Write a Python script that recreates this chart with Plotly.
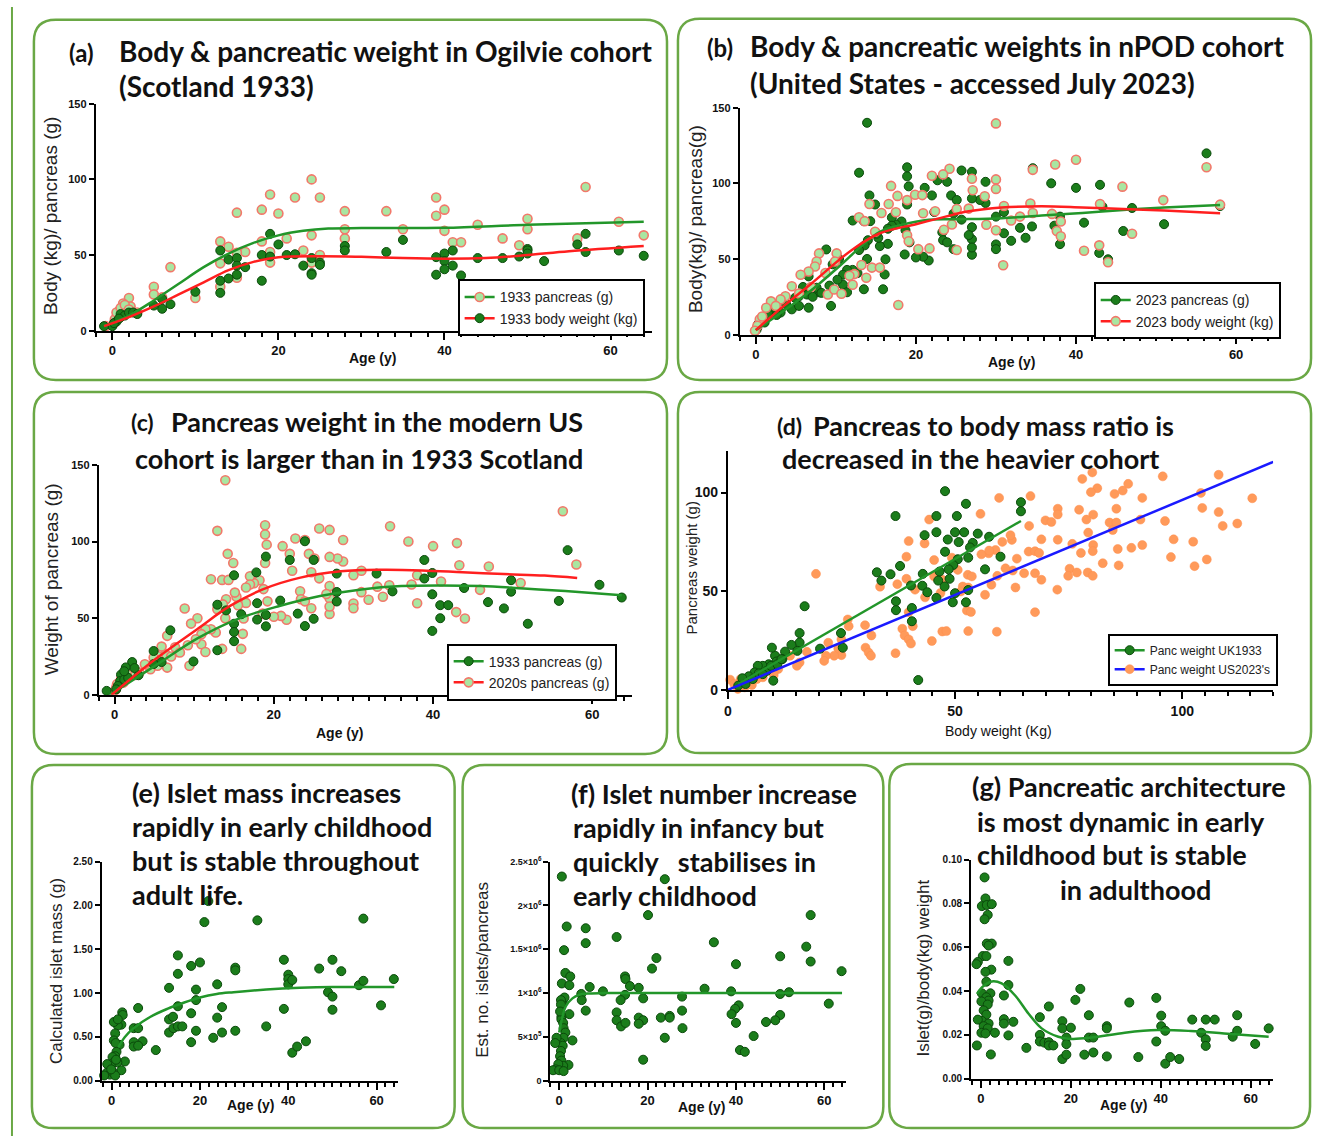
import plotly.graph_objects as go

W, H = 1327, 1144

# ---------------- DATA ----------------
# (a) Ogilvie 1933: pancreas (g) and body weight (kg) vs age
a_panc_age = [24, 19, 22, 25, 18, 20, 15, 28, 33, 39, 40, 39, 40, 41, 42, 44, 35, 28, 28, 47, 49, 50, 50, 57, 56, 61, 64,
              24, 21, 18, 19, 19, 23, 25, 24, 13, 14, 16, 13, 15, 15, 13, 7, 5, 5, 6, 10, 2, 1.3, 2.2, 0.8, 0.3, -0.8,
              0.5, 1, 1.5, 2, 0.2, 3]
a_panc_val = [100, 90, 88, 88, 80, 77.5, 78, 79, 79, 88, 80, 76, 66, 58.5, 58.5, 70, 67, 67, 61, 61, 56.5, 74, 67, 95, 61, 72, 63,
              63, 61, 59, 52, 45, 53, 50, 45, 59, 55.5, 52, 44.5, 51.5, 35, 29, 42, 29, 24, 22, 21.6, 21.6, 18, 16, 13, 7.5, 3,
              12, 15, 17, 14, 5, 12]
a_body_age = [19, 57, 35, 20, 28, 28, 33, 13, 14, 15, 15, 15, 16, 18, 19, 21, 22, 23, 24, 24, 24, 25, 25, 18, 13, 14, 13, 10,
              7, 6, 6, 5, 39, 39, 40, 40, 40, 41, 41, 42, 44, 47, 49, 50, 50, 50, 52, 56, 57, 61, 64,
              0, 0.5, 1, 1, 1.5, 2, 2.5, 3, 0.2, -1, 0.8]
a_body_val = [64, 64, 60, 57, 56, 53, 52, 53, 47, 48, 43, 37, 42, 50, 49, 50, 50.5, 43, 48, 38, 37, 45, 43.5, 33, 33, 34.5, 25, 25.7,
              17.5, 21, 14.5, 16.6, 48.6, 37, 51, 46, 40.6, 53, 43, 36.5, 48, 48, 49, 54, 53, 51, 46, 57, 52, 53, 49.5,
              3, 6, 9, 11, 10, 12, 12, 11, 5, 3, 8]
a_panc_fit_x = [-1, 2, 5, 8, 11, 14, 17, 20, 23, 26, 30, 40, 50, 64]
a_panc_fit_y = [3, 10, 20, 31, 42, 51, 58, 63, 66, 67.5, 67.8, 68, 70, 72]
a_body_fit_x = [-1, 2, 5, 8, 11, 14, 17, 20, 25, 30, 35, 40, 45, 50, 55, 64]
a_body_fit_y = [3, 9, 16, 24, 32, 40, 45.5, 48.5, 49.2, 48.8, 48, 47.6, 48, 50, 52.5, 56]

# (b) nPOD 2023: pancreas (g) and body weight (kg) vs age
b_panc_age = [13.9, 56.3, 12.9, 18.9, 18.9, 19.1, 25.7, 28.7, 27, 22.7, 23.9, 21.1, 22, 24.4, 18.9, 14.2, 14.9, 13.5, 12.1,
              34.6, 36.9, 40, 43, 58, 51, 43.3, 45.9, 47, 44, 42.9, 41, 38, 38, 37.3, 34.5, 33.7, 33, 31.9, 31, 31, 30, 30, 30,
              28.7, 28, 27, 27, 27, 27, 27, 26.6, 25.7, 25.1, 24.7, 23.3, 23.4, 23.9, 24.7, 22.3, 21.6, 20.9, 20, 18.6, 19.2,
              18.7, 18.2, 17.5, 17, 17, 16.5, 16.5, 16.2, 16.1, 15.9, 15.5, 15.3, 15.1, 14.3, 14, 13.9, 13.6, 12.9, 12.7, 13.5,
              12.1, 11.4, 10.9, 10.9, 11.4, 10.4, 9.6, 8.8, 9.4, 10.2, 9.2, 7.9, 7.6, 6.6, 6.6, 6.4, 5.9, 5.4, 4.9, 4.5, 3.8,
              3.1, 2.3, 1.6, 0.8, 0.3, 0.1, 0.2, 1.1, 2.6, 7.1, 8.2, 5.4]
b_panc_val = [140, 119.8, 107, 110.6, 104.6, 98, 108.5, 101, 107.6, 102, 101, 97, 92, 92, 86, 92, 86, 75, 75.4,
              110, 100, 97, 99, 85, 73, 84.6, 68.5, 83.7, 49.8, 54, 74, 78, 59.8, 72, 71.5, 64, 70.6, 62, 67, 81, 59.6, 56.5, 78,
              87, 89, 90, 71, 63, 52.8, 57.6, 65.8, 76, 89, 80, 67.6, 62.4, 61, 56.5, 81, 49, 51.5, 51, 53, 61,
              69, 74.8, 72.8, 77.4, 72, 70, 60, 49.8, 39.8, 30, 58.5, 64, 66.7, 75, 62.4, 50, 59, 55.9, 40.7, 30,
              42.8, 42.8, 39.6, 33, 28, 50, 46.5, 56.3, 19, 36.3, 32.4, 28, 31, 38.5, 17.8, 26.5, 31.5, 25.4, 24.3, 16.7, 20,
              14.6, 16.7, 13.5, 10.2, 7, 3.3, 4.8, 8, 13, 25, 27.6, 19]
b_body_age = [30, 40, 37.4, 56.3, 34.6, 24.2, 23.4, 22, 27, 30, 30, 45.8, 16.9, 17.7, 18.9, 19.9, 20.8, 27.1, 28.6, 50.9, 58,
              34.3, 43, 14.2, 16.6, 15.7, 17.5, 20.9, 22.4, 25.1, 26.6, 31, 31.9, 33, 34.6, 37, 38.1, 37.6, 38.1, 30, 28.8,
              23.5, 24.5, 12.9, 13.6, 14.9, 18.9, 19.1, 21.7, 20.3, 25.1, 30.9, 41, 42.9, 47, 44, 13.2, 13.8, 14.5, 15.5,
              12.3, 11.7, 12.1, 17.8, 10.1, 9.9, 7.9, 7.6, 7.4, 6.6, 5.6, 8.7, 9, 9.8, 10.7, 4.5, 3.7, 3.1, 1.9, 1.3, 2.5,
              0.5, 0.2, -0.1, 0.8, 5.4, 6.9]
b_body_val = [139.6, 115.6, 112.4, 110.6, 108.9, 109.6, 105.9, 105, 103, 102.6, 96.3, 97.8, 98.3, 91.7, 88.9, 92.4, 92.2, 95.4,
              91.5, 88.9, 85.9, 86.7, 86.3, 86.3, 86.3, 80.4, 80.9, 80.2, 81.5, 83, 83.3, 85, 75.4, 78, 80.4, 79.8, 74.8, 68.5,
              65, 69, 72.6, 69.3, 72.8, 77.6, 75, 68, 65.7, 61.7, 57, 56.5, 55.9, 45.9, 55.4, 59, 66.7, 47.8, 46, 37.6, 44.3,
              44.3, 40, 38.9, 33, 19.6, 53.7, 48.3, 53.7, 48.3, 45, 41.7, 39.6, 40.7, 26.5, 29.8, 27, 32, 25.4, 23.3, 22,
              17.8, 19, 10.2, 5.9, 2.6, 12, 27.2, 31.5]
b_panc_fit_x = [0, 2.5, 5.4, 8, 10.4, 13.5, 15.5, 18.5, 21.6, 25.6, 30.7, 35.7, 40.8, 45.9, 51, 58]
b_panc_fit_y = [3, 12, 23, 34, 45, 60, 68, 73, 76, 76.3, 77, 78.7, 80.4, 82.4, 84, 85.7]
b_body_fit_x = [0, 3.5, 7, 12, 15.5, 20, 22.6, 26.6, 30.7, 35.7, 40.8, 45.9, 51, 58]
b_body_fit_y = [3, 19, 34, 56, 67, 73, 76.5, 81.5, 84, 84.8, 84, 83, 82, 80.2]

# (c) pancreas weight 1933 vs 2020s (2020s points are the nPOD pancreas values)
c_1933_age = [23.9, 56.9, 38.9, 19, 22, 25, 17.8, 15, 39.9, 38.9, 32.9, 27.9, 49.8, 60.9, 43.9, 34.9, 27.9, 49.8, 39.9, 63.7,
              20.8, 27.9, 55.8, 46.9, 17.9, 40.9, 41.9, 48.9, 12.9, 14, 19, 23, 23.9, 19, 25, 17.9, 15.9, 15, 15, 15, 40.9,
              39.9, 51.9, 12.9, 9.9, 7, 4.9, 5.9, 4.9, 3, 2.2, 1.4, 0.8, 0.7, 1.2, 1.7, 0.4, 0.2, -1, 1.2, 2.5]
c_1933_val = [100.2, 94.4, 88, 90.2, 88, 88, 79.9, 78, 79.5, 75.9, 79.1, 79.1, 74.8, 71.8, 69.7, 67.5, 67.1, 67.3, 65.6, 63.5,
              61.5, 60.9, 61.3, 60.5, 59.8, 58.5, 58.5, 56.4, 58.8, 55.1, 52.1, 53, 44.9, 44.7, 49.6, 49.1, 52.6, 46.4, 41, 35,
              50, 41.7, 46.4, 29.1, 21.8, 42.1, 28.6, 21.4, 20.1, 12.8, 21.4, 17.9, 13.2, 9, 10, 11.1, 5.8, 3.6, 2.6, 15.4, 17.5]
c_1933_fit_x = [-0.6, 5.3, 10.4, 15.5, 20.7, 25.8, 31, 36, 41, 46, 51.4, 56.6, 63.7]
c_1933_fit_y = [0, 19.7, 36.8, 49.6, 58, 64.5, 68.8, 71, 71.4, 71, 69.4, 67.7, 65]
c_2020_fit_x = [-0.4, 5.3, 10.4, 14.5, 18.6, 23.2, 28.4, 33.5, 38.6, 43.7, 48.9, 54, 58.1]
c_2020_fit_y = [0, 24, 43, 58, 68.8, 76.3, 80.6, 81.6, 81.2, 80, 78.8, 77.8, 76.3]

# (d) pancreas weight (g) vs body weight (kg)
d_uk_body = [47.8, 64.5, 64.5, 52.4, 36.9, 45.9, 50.4, 43.3, 45.9, 48.4, 50, 52, 55, 57.5, 50.8, 53.9, 53.3, 47.8, 60, 52.9,
             50.6, 49.6, 48.6, 56.6, 46.6, 42.9, 32.8, 35.8, 37.9, 33.8, 46.3, 48.8, 40.3, 42.8, 47.7, 43.9, 50, 52.9, 45.9,
             49.5, 52.4, 37, 37, 40.5, 40.5, 41.9, 16.9, 15.8, 24.9, 25.3, 20.3, 15.8, 14, 15.3, 12.6, 12, 10.4, 9.7, 10,
             10.7, 9, 7.7, 6.6, 8.6, 5.9, 4.6, 3.2, 2.3, 3.9, 5.5, 6.8, 7.7, 9.5, 10.9, 11.8]
d_uk_panc = [100.7, 95.1, 90.5, 94.3, 88.1, 88.1, 88.1, 78.4, 79.9, 76.2, 79.9, 79.9, 79.2, 77.6, 74.9, 74.5, 72.2, 70, 67.5, 67,
             66.2, 63.3, 61.1, 61.1, 60, 58.8, 59.6, 58.6, 62.8, 55.4, 55.4, 56.3, 52.9, 52.8, 52.4, 49.5, 49, 50.6, 46.6,
             44.4, 44.4, 44.9, 40.4, 41.5, 34.8, 5, 42.4, 28.8, 28.8, 21.4, 20.9, 24, 22.8, 19.8, 19.4, 15.6, 17.3, 21.4, 4.7,
             14.4, 13, 12.2, 12.2, 9.7, 8.9, 6.9, 5.9, 2.2, 3, 5.5, 8.4, 8, 12.2, 13, 15.6]
d_us_body = [80.2, 78, 81.3, 79.9, 85.1, 86.9, 88.1, 95.7, 108, 104.1, 91.2, 115.4, 66.6, 59.7, 85.5, 80.4, 84, 85.5, 78.9,
             77.3, 72.6, 72.6, 69.9, 71.2, 66.3, 90.8, 96.2, 104.4, 108, 108.9, 112.1, 98.1, 102.4, 97.5, 102.7, 105.4,
             91.2, 88.8, 85.8, 84.7, 79.3, 80.4, 80.3, 77.7, 75.8, 72.6, 69, 66.2, 67.6, 68.5, 75.2, 74.9, 79.2, 80.3, 82.5,
             86, 72.5, 69, 67.6, 65.2, 62.7, 63.6, 63.3, 59.3, 61.1, 62.5, 62.2, 60.4, 58.9, 57.4, 55.8, 57.5, 55.6, 44.3,
             39.8, 43.3, 39.3, 45.4, 47.2, 45.4, 49.3, 50.6, 51.7, 52.8, 53.7, 58, 56.6, 52.9, 51.3, 46.8, 52.6, 53.5, 52.9,
             47.2, 48.1, 59.2, 67.6, 37.3, 33.5, 39.3, 41.2, 43.4, 39.8, 38.4, 38.9, 39.8, 40.3, 44.9, 36.9, 40.7, 30.2,
             31.6, 30.3, 31, 31.5, 26.4, 26.6, 25, 24.3, 25, 23.4, 21.6, 21.2, 22.1, 19.4, 17.4, 15.8, 15.2, 13.7, 11.1,
             10.1, 10.1, 7.7, 6.4, 5, 4.1, 2.8, 0.5, 1.4, 3.7, 5.3, 2.2, 3.2, 76.8]
d_us_panc = [110.2, 106.9, 102.2, 100.2, 99.3, 101, 104.4, 108.2, 109, 99.8, 97.3, 97.1, 98.2, 97.3, 91.8, 88.8, 84.8, 84.8,
             86.3, 91.3, 91.8, 88.9, 85.9, 85.1, 83.1, 86.3, 85.6, 92.2, 90.1, 83.1, 84.3, 76.3, 75.1, 67.3, 62.7, 66.1,
             73.4, 72, 71.4, 81, 79.7, 73.4, 70.3, 69.4, 74, 76.1, 76.3, 70.1, 70.3, 69.4, 61.4, 57.8, 59.5, 57.8, 64.2,
             63.1, 50.8, 55.8, 59.1, 59.1, 60.5, 66.5, 51.9, 57.8, 61.6, 76, 78.4, 75, 70.9, 69.2, 68.7, 70.6, 89.2, 86.3,
             75.4, 74.2, 67.5, 65.8, 55.8, 57.5, 67, 60.8, 52.4, 58.3, 57.5, 53.3, 48.2, 51.9, 49.9, 49.1, 40.2, 39.5, 29.8,
             29.6, 29.8, 29.5, 39.4, 53.6, 52.3, 56.3, 50.8, 46.9, 39.4, 31, 27.6, 25.6, 23.5, 24.8, 18.6, 32.3, 32.8,
             27.6, 21.4, 18.9, 17.3, 35.7, 32.3, 25.6, 20.9, 17.6, 17.3, 17.3, 14.7, 23.9, 58.8, 19.3, 13.9, 12.2, 17.3, 10.6,
             8.9, 7.5, 6.4, 5.5, 4.2, 3.5, 5.5, 5.2, 3, 1.3, 2.5, 0.5, 5, 59.5]
d_uk_fit_x = [2.3, 64.5]
d_uk_fit_y = [3, 85.6]
d_us_fit_x = [0, 120]
d_us_fit_y = [0, 115.5]

# (e) calculated islet mass (g)
e_age = [21.9, 21, 33, 57, 15, 15, 18, 20, 13, 19.1, 19.1, 23.9, 28, 28, 39, 40, 40, 40, 40.9, 47, 50, 52, 49, 50, 50, 56, 57,
         63.9, 61, 39, 35, 40.9, 42, 44, 15, 13, 13.9, 13, 14, 15, 16, 18, 18, 19.1, 23.9, 23, 25, 25, 28, 10, 6, 5, 6, 7,
         5, 5, 6, 2.4, 2.5, 2.2, 1.4, 1.8, 3, 2.2, 0.5, 1.4, 0.8, 0.5, 0.9, 1.1, 0.8, 0.2, 0.5, 1.3, -0.2, -1, -1.1, -0.4,
         0.4, 0.8, -1.7, -0.1, 1]
e_mass = [2.05, 1.81, 1.83, 1.85, 1.43, 1.22, 1.31, 1.35, 1.06, 1.04, 0.92, 1.1, 1.29, 1.26, 1.38, 1.21, 1.16, 1.1, 1.15, 1.28,
          1.38, 1.25, 1.01, 0.96, 0.81, 1.09, 1.14, 1.16, 0.86, 0.82, 0.62, 0.32, 0.39, 0.45, 0.85, 0.7, 0.73, 0.55, 0.6,
          0.62, 0.62, 0.77, 0.44, 0.57, 0.72, 0.49, 0.84, 0.55, 0.57, 0.35, 0.83, 0.6, 0.6, 0.45, 0.44, 0.39, 0.4, 0.78,
          0.75, 0.64, 0.63, 0.41, 0.22, 0.12, 0.67, 0.7, 0.54, 0.46, 0.43, 0.33, 0.28, 0.27, 0.21, 0.21, 0.17, 0.19, 0.09,
          0.07, 0.09, 0.06, 0.06, 0.13, 0.24]
e_fit_x = [1.5, 3, 5, 8.8, 12.6, 16.3, 20, 23.8, 27.6, 35, 42.6, 50, 57.7, 64]
e_fit_y = [0.38, 0.5, 0.6, 0.73, 0.82, 0.89, 0.95, 0.99, 1.01, 1.04, 1.06, 1.07, 1.07, 1.07]

# (f) estimated number of islets per pancreas
f_age = [0.6, 23.9, 20.1, 56.9, 1.7, 6, 6, 13, 35, 55.9, 56.9, 50, 40, 22, 21, 63.9, 1.1, 1.4, 2.5, 0.6, 2.3, 14.9, 15, 16,
         18, 6.9, 9.9, 32.9, 38.9, 52, 50, 5, 5.1, 14.9, 13.9, 19, 27.8, 61, 40.6, 39.8, 39, 6, 27.8, 13, 18, 19, 23, 25,
         25, 50, 48.9, 46.8, 40, 13, 14, 15, 18, 27.9, 23.9, 44, 40.9, 42, 19, 3, 2.1, 2.3, 0.8, 1.2, 0.4, 0.5, 0.5, 0.9, 1,
         1.4, 1, 0.4, 0.8, 0.4, 0.2, 0.5, 0.9, -0.2, -0.6, -0.9, -0.8, -1.4, 0, 1, 0.4, 0.2]
f_islets = [23.3e5, 23e5, 18.9e5, 18.9e5, 17.6e5, 17.4e5, 15.7e5, 16.4e5, 15.8e5, 15.3e5, 13.6e5, 14.2e5, 13.3e5, 14e5,
            12.8e5, 12.5e5, 14.9e5, 12.3e5, 11.9e5, 11.1e5, 10.9e5, 11.9e5, 11.6e5, 10.8e5, 10.6e5, 10.7e5, 10.2e5,
            10.5e5, 10.2e5, 10.1e5, 9.9e5, 9.9e5, 9.2e5, 9.8e5, 9.2e5, 9.4e5, 9.6e5, 8.8e5, 8.6e5, 8.2e5, 7.6e5, 8e5, 8e5,
            7.8e5, 7.2e5, 6.9e5, 7.2e5, 7.4e5, 7.2e5, 7.5e5, 6.9e5, 6.7e5, 6.6e5, 6.9e5, 6.2e5, 6.6e5, 6.5e5, 6e5, 4.9e5,
            5.1e5, 3.5e5, 3.3e5, 2.4e5, 4.6e5, 1.8e5, 7.6e5, 9e5, 9.5e5, 9.2e5, 7.3e5, 7e5, 6.6e5, 6e5, 5.5e5, 4.9e5,
            4.3e5, 4e5, 3.4e5, 2.8e5, 2.3e5, 1.7e5, 1.9e5, 4.9e5, 4.3e5, 1.3e5, 1.2e5, 1.2e5, 1.1e5, 8.7e5, 7.9e5]
f_fit_x = [0, 0.75, 1.5, 3, 4.5, 6.8, 10, 15.8, 30, 45, 64]
f_fit_y = [5.5e5, 7.3e5, 8.5e5, 9.4e5, 9.8e5, 9.96e5, 1e6, 1e6, 1e6, 1e6, 1e6]

# (g) islet (g) / body weight (kg)
g_age = [0.8, 1, 0.2, 1.3, 2.4, 1.5, 0.8, 1.3, 2.4, 1.7, 0.4, 1.2, -0.7, -1, 2.3, 1, 6.1, 1.2, 6.1, 0.2, 2.1, 1.2, 1.7, 0.1,
         1.5, 5.1, 0.6, 1.2, 0.2, -0.7, 1.7, 0.6, 1.5, 0.1, 1, 3.1, 5.1, 5.1, 6.1, 7.2, -0.9, 2.2, 10.1, 13.1, 13.1, 13.1,
         15.1, 14.1, 15.1, 15.1, 16.1, 18.1, 18.1, 18.1, 19, 19, 19, 20, 21, 22.1, 24, 24, 25, 23, 25, 28, 28, 28, 33, 35,
         39, 39, 40.1, 40.1, 41, 41, 42.1, 44.1, 47, 49, 50, 50, 50, 52, 56, 57, 57, 61, 64]
g_ratio = [0.0919, 0.0823, 0.0788, 0.0793, 0.0797, 0.0748, 0.0728, 0.0617, 0.0617, 0.0608, 0.056, 0.056, 0.0533, 0.0523,
           0.0498, 0.0488, 0.0538, 0.0443, 0.0428, 0.039, 0.039, 0.0372, 0.0357, 0.0353, 0.0339, 0.038, 0.0312, 0.0293,
           0.0264, 0.027, 0.0252, 0.024, 0.023, 0.021, 0.0207, 0.021, 0.0272, 0.0252, 0.0198, 0.026, 0.0152, 0.0111,
           0.0141, 0.0281, 0.02, 0.017, 0.033, 0.0165, 0.0167, 0.0152, 0.0152, 0.0263, 0.023, 0.009, 0.0188, 0.0158,
           0.011, 0.0233, 0.036, 0.041, 0.029, 0.0188, 0.0188, 0.011, 0.012, 0.024, 0.023, 0.0102, 0.0348, 0.0099,
           0.0369, 0.017, 0.0288, 0.024, 0.0219, 0.0069, 0.0099, 0.009, 0.027, 0.021, 0.027, 0.018, 0.015, 0.027, 0.0192,
           0.029, 0.0219, 0.0159, 0.023]
g_fit_x = [-0.9, 0.2, 2.4, 4.6, 7.6, 10.6, 13.5, 17.2, 20.1, 24.6, 32, 39.3, 46.7, 54.1, 64]
g_fit_y = [0.0387, 0.0417, 0.0444, 0.0435, 0.038, 0.0297, 0.023, 0.0192, 0.0182, 0.0188, 0.021, 0.0222, 0.0218, 0.0207, 0.0192]

# ---------------- STYLE ----------------
DARK = dict(color="#1b7d1b", size=9, line=dict(color="#0b4a0b", width=1))
LIGHT = dict(color="#a9e6a1", size=9, line=dict(color="#f2786a", width=1.6))
ORANGE = dict(color="#ff9a5a", size=9, line=dict(color="#ff8c4c", width=0.5))
GREEN_LINE = "#22962a"
RED_LINE = "#ff1f1f"
BLUE_LINE = "#1a1aff"
BORDER = "#6aa845"


def X(p):
    return p / W


def Y(p):
    return 1 - p / H


fig = go.Figure()


def ax_names(n):
    s = "" if n == 1 else str(n)
    return "x" + s, "y" + s, "xaxis" + s, "yaxis" + s


def scatter(n, x, y, marker):
    xr, yr, _, _ = ax_names(n)
    fig.add_trace(go.Scatter(x=x, y=y, mode="markers", marker=marker, xaxis=xr, yaxis=yr,
                             showlegend=False, cliponaxis=False, hoverinfo="skip"))


def line(n, x, y, color, width=2.5, spline=True):
    xr, yr, _, _ = ax_names(n)
    fig.add_trace(go.Scatter(x=x, y=y, mode="lines", line=dict(color=color, width=width,
                                                               shape="spline" if spline else "linear", smoothing=1.0),
                             xaxis=xr, yaxis=yr, showlegend=False, cliponaxis=False, hoverinfo="skip"))


def legend_item(n, name, color, marker, legend):
    xr, yr, _, _ = ax_names(n)
    fig.add_trace(go.Scatter(x=[None], y=[None], mode="lines+markers", name=name,
                             line=dict(color=color, width=2.5), marker=marker,
                             xaxis=xr, yaxis=yr, legend=legend))


# (a)
scatter(1, a_panc_age, a_panc_val, LIGHT)
scatter(1, a_body_age, a_body_val, DARK)
line(1, a_panc_fit_x, a_panc_fit_y, GREEN_LINE)
line(1, a_body_fit_x, a_body_fit_y, RED_LINE)
legend_item(1, "1933 pancreas (g)", GREEN_LINE, LIGHT, "legend")
legend_item(1, "1933 body weight (kg)", RED_LINE, DARK, "legend")

# (b)
scatter(2, b_panc_age, b_panc_val, DARK)
scatter(2, b_body_age, b_body_val, LIGHT)
line(2, b_panc_fit_x, b_panc_fit_y, GREEN_LINE)
line(2, b_body_fit_x, b_body_fit_y, RED_LINE)
legend_item(2, "2023 pancreas (g)", GREEN_LINE, DARK, "legend2")
legend_item(2, "2023 body weight (kg)", RED_LINE, LIGHT, "legend2")

# (c)
scatter(3, b_panc_age, b_panc_val, LIGHT)
scatter(3, c_1933_age, c_1933_val, DARK)
line(3, c_1933_fit_x, c_1933_fit_y, GREEN_LINE)
line(3, c_2020_fit_x, c_2020_fit_y, RED_LINE)
legend_item(3, "1933 pancreas (g)", GREEN_LINE, DARK, "legend3")
legend_item(3, "2020s pancreas (g)", RED_LINE, LIGHT, "legend3")

# (d)
scatter(4, d_us_body, d_us_panc, ORANGE)
scatter(4, d_uk_body, d_uk_panc, DARK)
line(4, d_uk_fit_x, d_uk_fit_y, GREEN_LINE, spline=False)
line(4, d_us_fit_x, d_us_fit_y, BLUE_LINE, spline=False)
legend_item(4, "Panc weight UK1933", GREEN_LINE, DARK, "legend4")
legend_item(4, "Panc weight US2023's", BLUE_LINE, ORANGE, "legend4")

# (e)
scatter(5, e_age, e_mass, DARK)
line(5, e_fit_x, e_fit_y, GREEN_LINE)
# (f)
scatter(6, f_age, f_islets, DARK)
line(6, f_fit_x, f_fit_y, GREEN_LINE)
# (g)
scatter(7, g_age, g_ratio, DARK)
line(7, g_fit_x, g_fit_y, GREEN_LINE)

# ---------------- AXES ----------------
TICKFAM = "Liberation Sans"


def set_axes(n, xdom, ydom, xr, yr, xdtick, xminor, ytick, xtick_size=13, ytick_size=11, ytickvals=None,
             yticktext=None, ytickformat=None):
    xr_name, yr_name, xa, ya = ax_names(n)
    xaxis = dict(domain=[X(xdom[0]), X(xdom[1])], range=xr, anchor=yr_name, showline=True, linecolor="black",
                 linewidth=2, ticks="outside", ticklen=7, tickwidth=2, tickcolor="black", tick0=0, dtick=xdtick,
                 showgrid=False, zeroline=False, fixedrange=True,
                 tickfont=dict(family=TICKFAM, size=xtick_size, color="#111", weight="bold"),
                 minor=dict(dtick=xminor, tick0=0, ticks="outside", ticklen=4, tickwidth=1.5, tickcolor="black",
                            showgrid=False))
    yaxis = dict(domain=[Y(ydom[1]), Y(ydom[0])], range=yr, anchor=xr_name, showline=True, linecolor="black",
                 linewidth=2, ticks="outside", ticklen=5, tickwidth=2, tickcolor="black", showgrid=False,
                 zeroline=False, fixedrange=True,
                 tickfont=dict(family=TICKFAM, size=ytick_size, color="#111", weight="bold"))
    if ytickvals is not None:
        yaxis["tickvals"] = ytickvals
        yaxis["ticktext"] = yticktext
    else:
        yaxis["tick0"] = 0
        yaxis["dtick"] = ytick
    if ytickformat:
        yaxis["tickformat"] = ytickformat
    fig.layout[xa] = xaxis
    fig.layout[ya] = yaxis


set_axes(1, (92, 650), (98, 328), [-2, 65], [0, 150], 20, 2, 50)
set_axes(2, (738, 1276), (102, 332), [-2, 65], [0, 150], 20, 2, 50)
set_axes(3, (95, 630), (464, 697), [-2, 65], [0, 150], 20, 2, 50)
set_axes(4, (726, 1273), (450, 692), [0, 120], [0, 121], 50, 5, 50, xtick_size=14, ytick_size=14)
set_axes(5, (98, 395), (866, 1088), [-2.25, 64.8], [0, 2.5], 20, 2, 0.5, ytick_size=10, ytickformat=".2f")
set_axes(6, (548, 845), (866, 1088), [-2, 65], [0, 2.5e6], 20, 2, None, ytick_size=9,
         ytickvals=[0, 5e5, 1e6, 1.5e6, 2e6, 2.5e6],
         yticktext=["0", "5×10<sup>5</sup>", "1×10<sup>6</sup>", "1.5×10<sup>6</sup>", "2×10<sup>6</sup>",
                    "2.5×10<sup>6</sup>"])
set_axes(7, (970, 1273), (864, 1086), [-2.2, 65], [0, 0.1], 20, 2, 0.02, ytick_size=10, ytickformat=".2f")


# ---------------- LEGENDS ----------------
def legend_cfg(xp, yp, size=14):
    return dict(x=X(xp), y=Y(yp), xanchor="left", yanchor="top", xref="paper", yref="paper",
                bgcolor="white", bordercolor="black", borderwidth=2, itemwidth=30,
                font=dict(family="Liberation Sans", size=size, color="#222"), tracegroupgap=0)


fig.update_layout(
    legend=legend_cfg(455, 276),
    legend2=legend_cfg(1093, 279),
    legend3=legend_cfg(444, 645),
    legend4=legend_cfg(1107, 635, size=12),
)

# ---------------- PANEL BORDERS ----------------
panels = [(30, 13, 665, 378), (676, 12, 1311, 378), (30, 390, 665, 757), (676, 390, 1311, 756),
          (28, 768, 452, 1136), (460, 768, 882, 1136), (888, 767, 1310, 1136)]


def rounded_path(x0, y0, x1, y1, r=22):
    pts = lambda x, y: f"{X(x):.5f},{Y(y):.5f}"
    return ("M " + pts(x0 + r, y0) + " L " + pts(x1 - r, y0) + " Q " + pts(x1, y0) + " " + pts(x1, y0 + r) +
            " L " + pts(x1, y1 - r) + " Q " + pts(x1, y1) + " " + pts(x1 - r, y1) +
            " L " + pts(x0 + r, y1) + " Q " + pts(x0, y1) + " " + pts(x0, y1 - r) +
            " L " + pts(x0, y0 + r) + " Q " + pts(x0, y0) + " " + pts(x0 + r, y0) + " Z")


shapes = [dict(type="path", path=rounded_path(*p), xref="paper", yref="paper",
               line=dict(color=BORDER, width=2.5)) for p in panels]
shapes.append(dict(type="line", xref="paper", yref="paper", x0=X(8), x1=X(8), y0=0, y1=1,
                   line=dict(color=BORDER, width=2)))
fig.update_layout(shapes=shapes)

# ---------------- TEXT ----------------
TFONT = dict(family="Lato", size=27, color="#111", weight="bold")
ann = []


def title(xp, yp, text, size=27):
    ann.append(dict(x=X(xp), y=Y(yp), xref="paper", yref="paper", text=text, showarrow=False,
                    xanchor="left", yanchor="middle", font=dict(TFONT, size=size)))


title(63, 46, "(a)", 24)
title(113, 45, "Body &amp; pancreatic weight in Ogilvie cohort", 28)
title(113, 80, "(Scotland 1933)", 28)
title(703, 41, "(b)", 24)
title(746, 40, "Body &amp; pancreatic weights in nPOD cohort", 28)
title(746, 77, "(United States - accessed July 2023)", 28)
title(125, 421, "(c)", 23)
title(166, 420, "Pancreas weight in the modern US")
title(129, 457, "cohort is larger than in 1933 Scotland")
title(773, 425, "(d)", 23)
title(809, 424, "Pancreas to body mass ratio is")
title(778, 458, "decreased in the heavier cohort")
title(126, 796, "(e) Islet mass increases")
title(126, 830, "rapidly in early childhood")
title(126, 865, "but is stable throughout")
title(126, 899, "adult life.")
title(567, 797, "(f) Islet number increase")
title(569, 831, "rapidly in infancy but")
title(569, 866, "quickly&nbsp;&nbsp; stabilises in")
title(569, 900, "early childhood")
title(969, 790, "(g) Pancreatic architecture")
title(974, 825, "is most dynamic in early")
title(974, 859, "childhood but is stable")
title(1057, 894, "in adulthood")


def ytitle(xp, yp, text, size):
    ann.append(dict(x=X(xp), y=Y(yp), xref="paper", yref="paper", text=text, showarrow=False, textangle=-90,
                    xanchor="center", yanchor="middle",
                    font=dict(family="Liberation Sans", size=size, color="#222")))


def xtitle(xp, yp, text, size=14, bold=True):
    ann.append(dict(x=X(xp), y=Y(yp), xref="paper", yref="paper", text=text, showarrow=False,
                    xanchor="center", yanchor="middle",
                    font=dict(family="Liberation Sans", size=size, color="#111",
                              weight="bold" if bold else "normal")))


ytitle(46, 211, "Body (kg)/ pancreas (g)", 19)
xtitle(370, 356, "Age (y)")
ytitle(693, 215, "Body(kg)/ pancreas(g)", 19)
xtitle(1011, 360, "Age (y)")
ytitle(48, 580, "Weight of pancreas (g)", 19)
xtitle(337, 736, "Age (y)")
ytitle(690, 568, "Pancreas weight (g)", 15)
xtitle(998, 734, "Body weight (Kg)", 14, bold=False)
ytitle(52, 977, "Calculated islet mass (g)", 17)
xtitle(247, 1113, "Age (y)")
ytitle(480, 976, "Est. no. islets/pancreas", 17)
xtitle(700, 1115, "Age (y)")
ytitle(922, 974, "Islet(g)/body(kg) weight", 17)
xtitle(1123, 1113, "Age (y)")

fig.update_layout(annotations=ann, width=W, height=H, margin=dict(l=0, r=0, t=0, b=0),
                  paper_bgcolor="white", plot_bgcolor="white")

fig.write_html("out.html", config={"displayModeBar": False},
               post_script="document.body.style.margin='0';document.body.style.overflow='hidden';")
